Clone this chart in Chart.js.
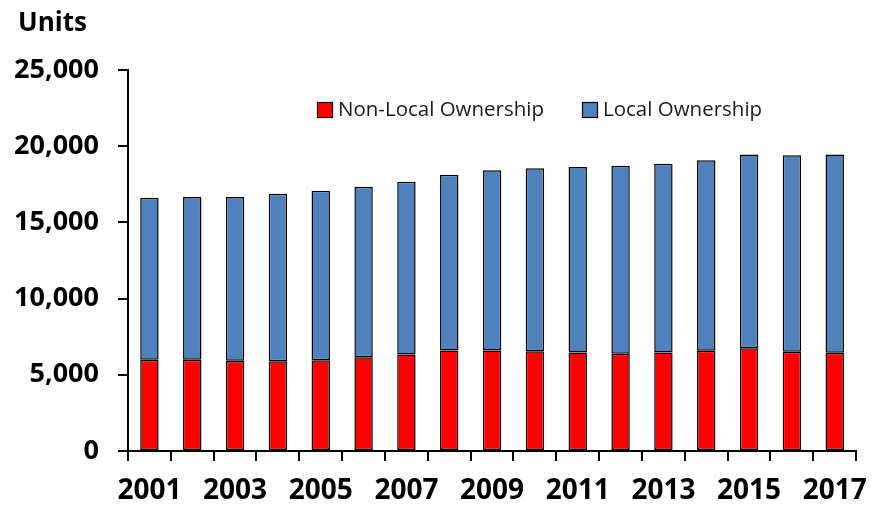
<!DOCTYPE html>
<html>
<head>
<meta charset="utf-8">
<script src="https://cdn.jsdelivr.net/npm/chart.js@4"></script>
<style>
  html, body { margin: 0; padding: 0; background: #fff; }
  #wrap { width: 880px; height: 505px; }
</style>
</head>
<body>
<div id="wrap"><canvas id="grafico"></canvas></div>
<script>
const anios = ["2001", "2002", "2003", "2004", "2005", "2006", "2007", "2008", "2009",
  "2010", "2011", "2012", "2013", "2014", "2015", "2016", "2017"];

const propiedadNoLocal = [5980, 5980, 5920, 5890, 5950, 6150, 6330, 6590, 6590,
  6550, 6460, 6380, 6460, 6570, 6740, 6520, 6440];

const propiedadLocal = [10640, 10690, 10750, 10990, 11130, 11190, 11340, 11540, 11830,
  12000, 12170, 12340, 12390, 12500, 12720, 12880, 13020];

const FUENTE = "'Open Sans', 'Liberation Sans', sans-serif";

// Leyenda dentro del area del grafico y el titulo "Units" arriba a la izquierda
const leyendaPlugin = {
  id: "leyendaInterna",
  afterDraw(chart) {
    const ctx = chart.ctx;
    ctx.save();
    ctx.fillStyle = "#000";
    ctx.font = "bold 26px " + FUENTE;
    ctx.textBaseline = "alphabetic";
    ctx.fillText("Units", 18, 31);

    const posiciones = [317, 582];
    ctx.font = "20.5px " + FUENTE;
    ctx.textBaseline = "middle";
    chart.data.datasets.forEach((ds, i) => {
      const x = posiciones[i];
      const y = 102;
      ctx.fillStyle = ds.backgroundColor;
      ctx.fillRect(x, y, 15, 15);
      ctx.strokeStyle = "#000";
      ctx.lineWidth = 1.2;
      ctx.strokeRect(x + 0.5, y + 0.5, 15, 15);
      ctx.fillStyle = "#1a1a1a";
      ctx.fillText(ds.label, x + 21, y + 8);
    });
    ctx.restore();
  },
};

new Chart(document.getElementById("grafico"), {
  type: "bar",
  data: {
    labels: anios,
    datasets: [
      {
        label: "Non-Local Ownership",
        data: propiedadNoLocal,
        backgroundColor: "#FF0000",
        borderColor: "#000",
        borderWidth: 1.5,
        borderSkipped: false,
      },
      {
        label: "Local Ownership",
        data: propiedadLocal,
        backgroundColor: "#4F81BD",
        borderColor: "#000",
        borderWidth: 1.5,
        borderSkipped: false,
      },
    ],
  },
  options: {
    responsive: true,
    maintainAspectRatio: false,
    animation: false,
    layout: { padding: { top: 70, right: 8, left: 0, bottom: 0 } },
    datasets: {
      bar: { categoryPercentage: 1, barPercentage: 0.43 },
    },
    plugins: {
      legend: { display: false },
      title: { display: false },
      tooltip: { enabled: false },
    },
    scales: {
      x: {
        stacked: true,
        border: { display: true, color: "#000", width: 2 },
        grid: {
          display: true,
          offset: true,
          drawOnChartArea: false,
          drawTicks: true,
          tickLength: 10,
          color: "#000",
          lineWidth: 2,
        },
        ticks: {
          autoSkip: false,
          maxRotation: 0,
          padding: 13,
          color: "#000",
          font: { family: FUENTE, size: 28, weight: "bold" },
          callback: (valor, i) => (i % 2 === 0 ? anios[i] : ""),
        },
        afterFit: (escala) => { escala.height = 54; },
      },
      y: {
        stacked: true,
        min: 0,
        max: 25000,
        border: { display: true, color: "#000", width: 2 },
        grid: {
          display: true,
          drawOnChartArea: false,
          drawTicks: true,
          tickLength: 10,
          color: "#000",
          lineWidth: 2,
        },
        ticks: {
          stepSize: 5000,
          padding: 19,
          color: "#000",
          font: { family: FUENTE, size: 27, weight: "bold" },
          callback: (valor) => valor.toLocaleString("en-US"),
        },
        afterFit: (escala) => { escala.width = 128; },
      },
    },
  },
  plugins: [leyendaPlugin],
});
</script>
</body>
</html>
